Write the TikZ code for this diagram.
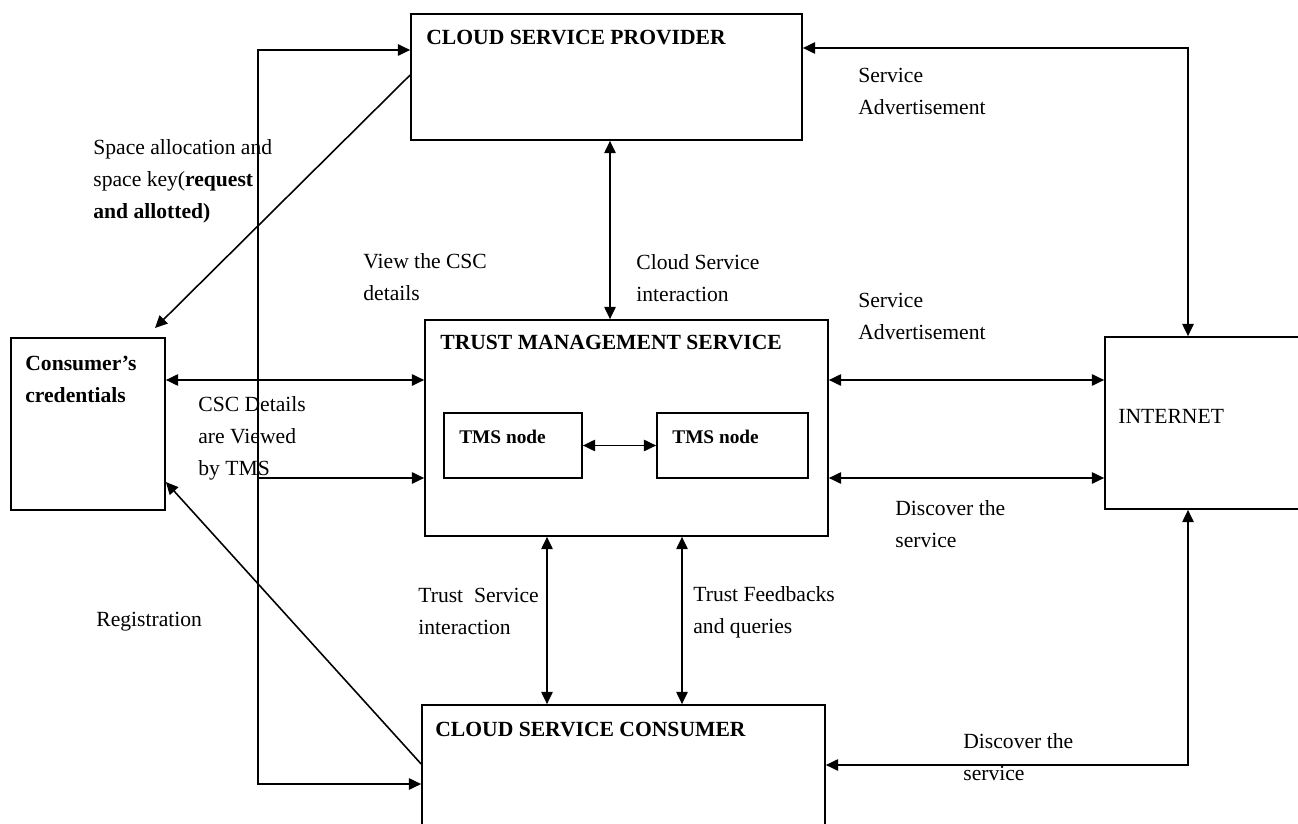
\documentclass[tikz,border=0pt]{standalone}
\usepackage{fontspec}
\setmainfont{Liberation Serif}
\usetikzlibrary{arrows.meta}

\tikzset{
  box/.style={draw, line width=1pt, inner sep=0pt},
  lbl/.style={anchor=west, inner sep=0pt, align=left, font=\fontsize{12.3}{18.2}\selectfont},
  ttl/.style={lbl, font=\fontsize{12.3}{18.2}\selectfont\bfseries},
  link/.style={line width=0.9pt},
}

\begin{document}
\begin{tikzpicture}[x=0.02cm, y=-0.02cm, >={Triangle[length=7pt,width=6.5pt]}]
        \useasboundingbox (0,0) rectangle (1298,824);
        % boxes
        \node[box, minimum width=7.82cm, minimum height=2.52cm] (csp) at (606.5,77) {};
        \node[box, minimum width=3.08cm, minimum height=3.44cm] (cred) at (88,424) {};
        \node[box, minimum width=8.06cm, minimum height=4.32cm] (tms) at (626.5,428) {};
        \node[box, minimum width=2.76cm, minimum height=1.30cm] (tmsa) at (513,445.5) {};
        \node[box, minimum width=3.02cm, minimum height=1.30cm] (tmsb) at (732.5,445.5) {};
        \node[box, minimum width=3.94cm, minimum height=3.44cm] (inet) at (1203.5,423) {};
        \node[box, minimum width=8.06cm, minimum height=2.50cm] (csc) at (623.5,767.5) {};
        % box texts
        \node[ttl] (csptxt) at (426,38) {CLOUD SERVICE PROVIDER};
        \node[ttl] (credtxt) at (25,379) {Consumer’s\\credentials};
        \node[ttl] (tmstxt) at (440,343) {TRUST MANAGEMENT SERVICE};
        \node[ttl, font=\fontsize{11}{13}\selectfont\bfseries] (tmsatxt) at (459,437) {TMS node};
        \node[ttl, font=\fontsize{11}{13}\selectfont\bfseries] (tmsbtxt) at (672,437) {TMS node};
        \node[lbl] (inettxt) at (1118,416) {INTERNET};
        \node[ttl] (csctxt) at (435,730) {CLOUD SERVICE CONSUMER};
        % labels
        \node[lbl] (spacelbl) at (93,181.5) {Space allocation and\\space key(\textbf{request}\\\textbf{and allotted)}};
        \node[lbl] (viewlbl) at (363,277.5) {View the CSC\\details};
        \node[lbl] (cloudlbl) at (636,278) {Cloud Service\\interaction};
        \node[lbl] (adva) at (858,91) {Service\\Advertisement};
        \node[lbl] (advb) at (858,316) {Service\\Advertisement};
        \node[lbl] (csclbl) at (198,438) {CSC Details\\are Viewed\\by TMS};
        \node[lbl] (disca) at (895,524) {Discover the\\service};
        \node[lbl] (reglbl) at (96,622) {Registration};
        \node[lbl] (trusta) at (418,611) {Trust~ Service\\interaction};
        \node[lbl] (trustb) at (693,612) {Trust Feedbacks\\and queries};
        \node[lbl] (discb) at (963,757) {Discover the\\service};
        % helper points
        \coordinate (lpa) at (258,50);
        \coordinate (lpb) at (258,784);
        \coordinate (rpa) at (1188,48);
        \coordinate (rpb) at (1188,765);
        \coordinate (rowa) at (0,380);
        \coordinate (rowb) at (0,478);
        \coordinate (colc) at (610,0);
        \coordinate (cold) at (547,0);
        \coordinate (cole) at (682,0);
        \coordinate (saend) at (155,328);
        \coordinate (regend) at (0,482);
        % connectors
        \draw[link,<->] (csc.west |- lpb) -- (lpb) -- (lpa) -- (csp.west |- lpa);
        \draw[link,->] (csp.west |- 0,75) -- (saend);
        \draw[link,<->] (cred.east |- rowa) -- (tms.west |- rowa);
        \draw[link,->] (lpa |- rowb) -- (tms.west |- rowb);
        \draw[link,<->] (tmsa) -- (tmsb);
        \draw[link,<->] (csp.south -| colc) -- (tms.north -| colc);
        \draw[link,<->] (tms.east |- rowa) -- (inet.west |- rowa);
        \draw[link,<->] (tms.east |- rowb) -- (inet.west |- rowb);
        \draw[link,<->] (csp.east |- rpa) -- (rpa) -- (inet.north -| rpa);
        \draw[link,<->] (csc.east |- rpb) -- (rpb) -- (inet.south -| rpb);
        \draw[link,<->] (tms.south -| cold) -- (csc.north -| cold);
        \draw[link,<->] (tms.south -| cole) -- (csc.north -| cole);
        \draw[link,->] (csc.west |- 0,764) -- (cred.east |- regend);
\end{tikzpicture}
\end{document}
